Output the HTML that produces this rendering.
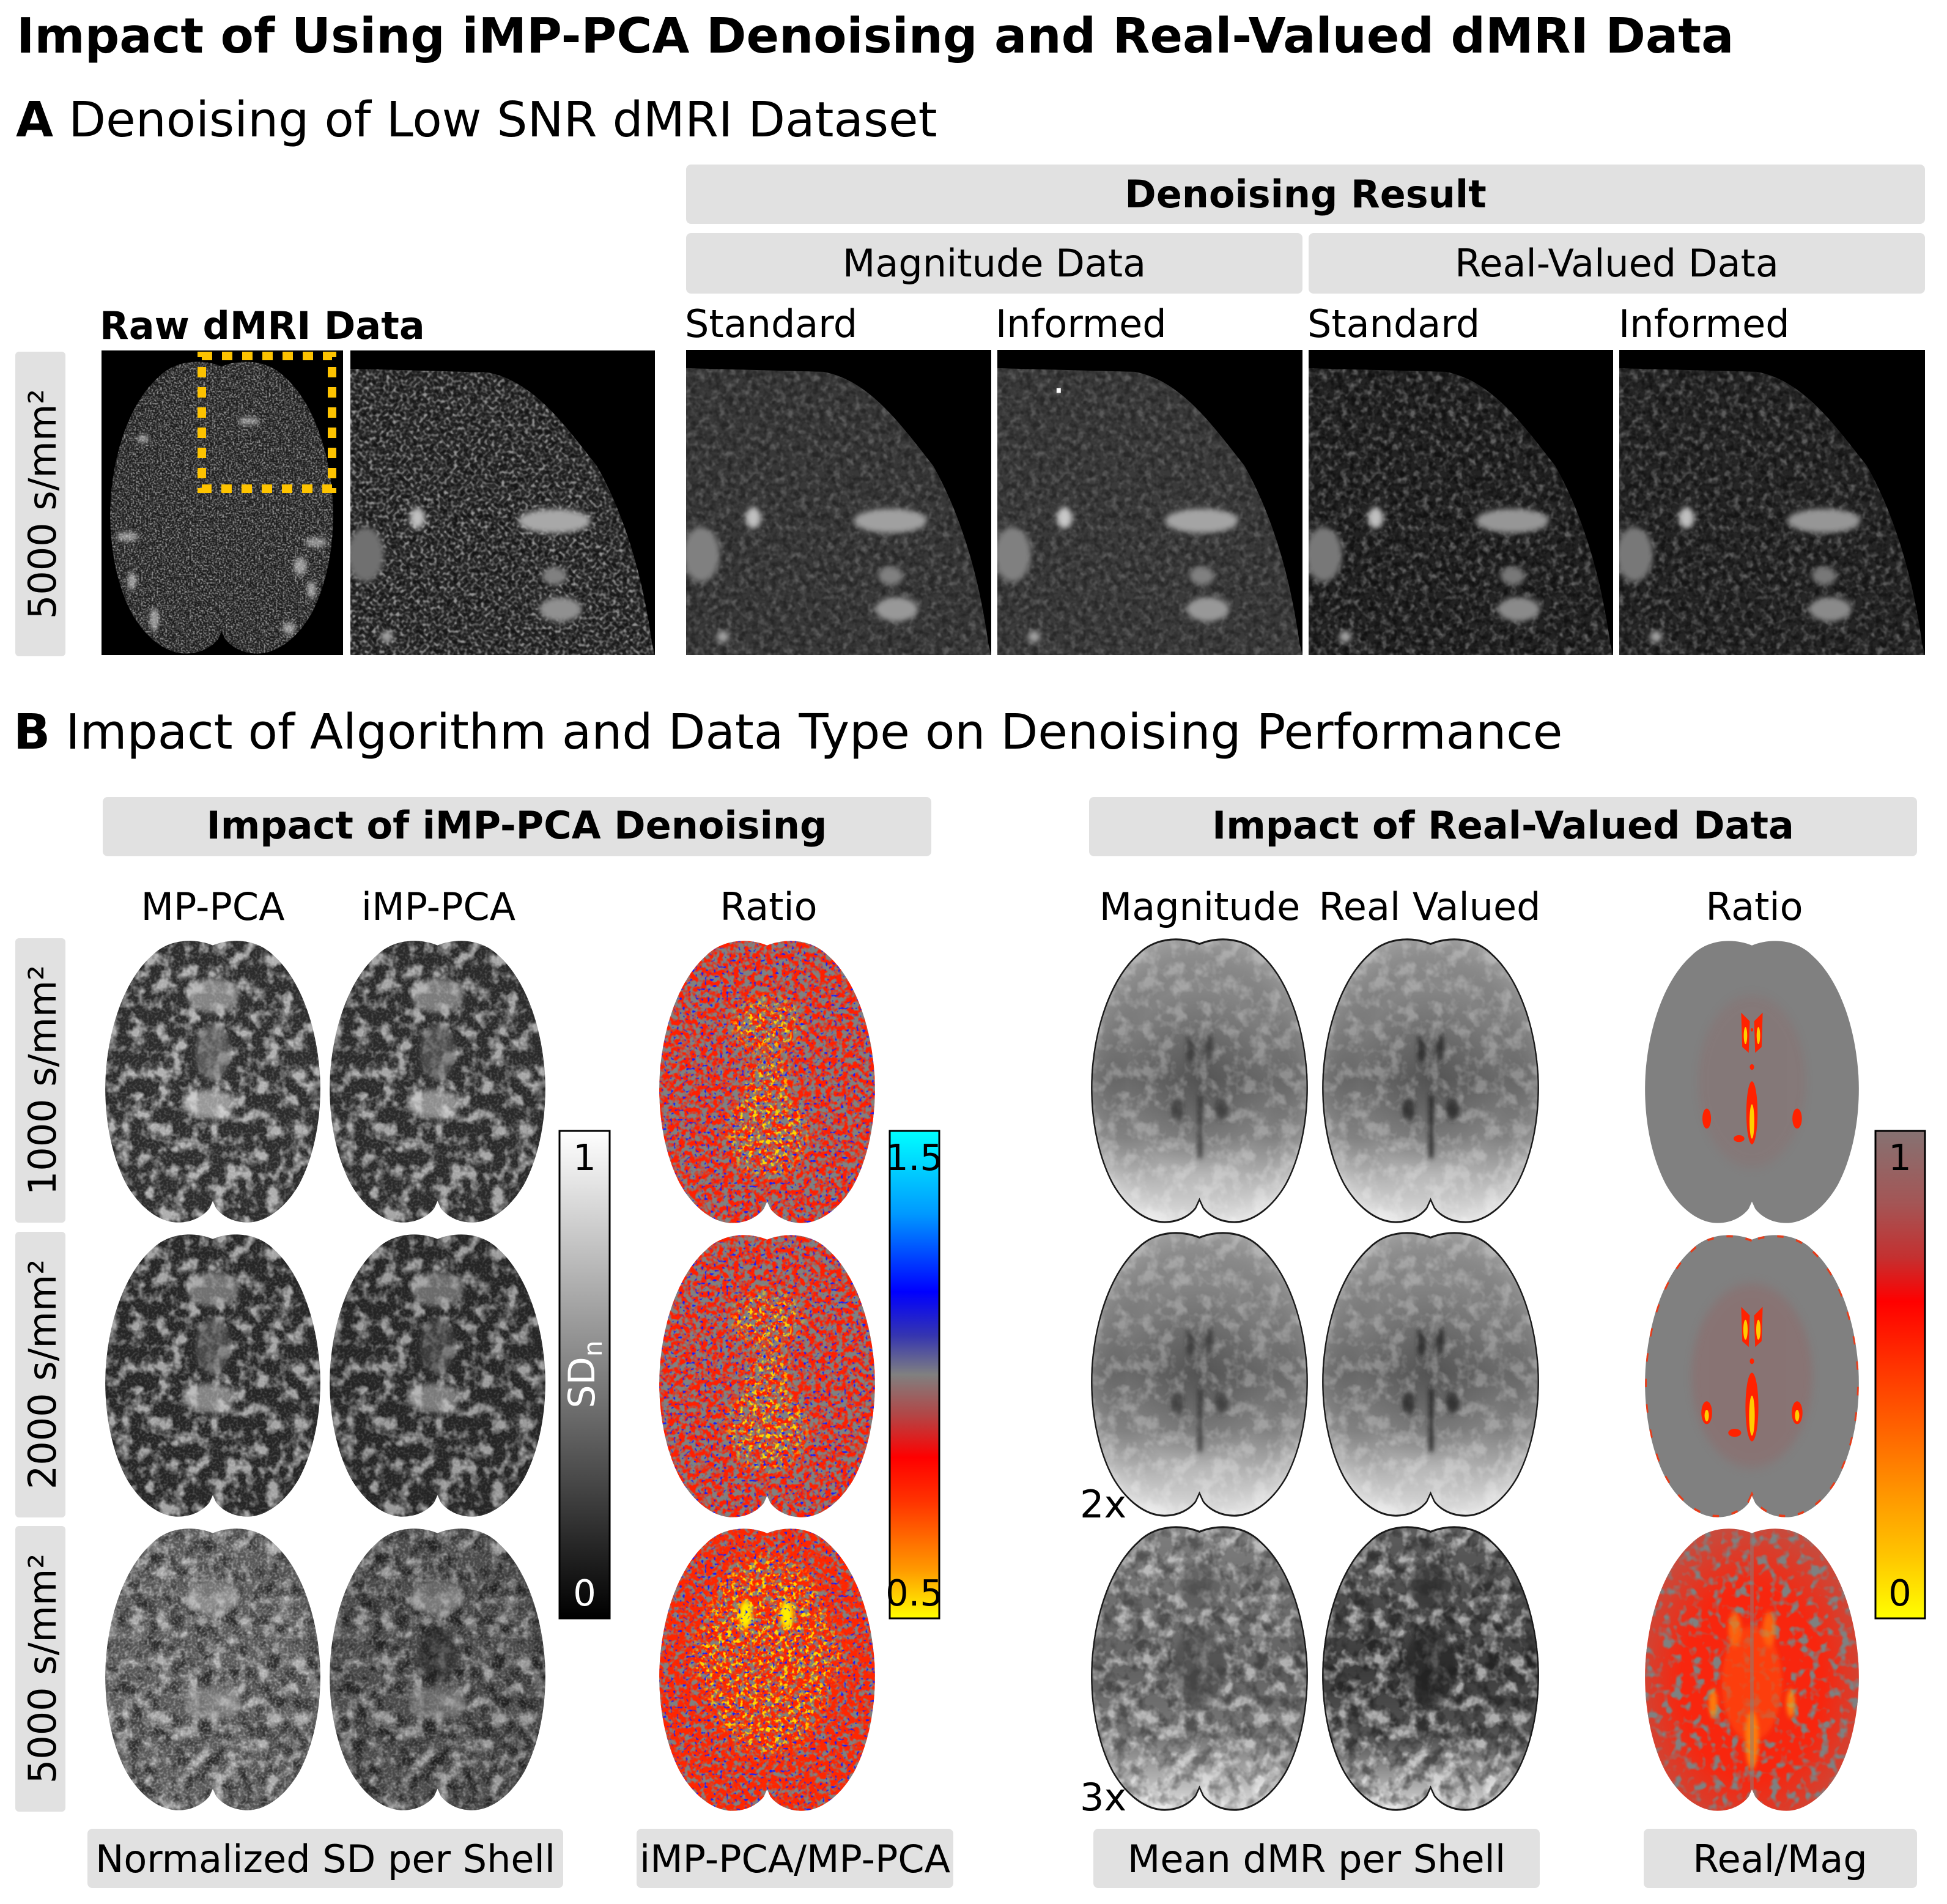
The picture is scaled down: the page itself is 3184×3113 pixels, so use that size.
<!DOCTYPE html>
<html><head><meta charset="utf-8"><style>html,body{margin:0;padding:0;background:#fff;}svg{display:block;}</style></head>
<body>
<svg xmlns="http://www.w3.org/2000/svg" width="3184" height="3113" viewBox="0 0 3184 3113" font-family="'DejaVu Sans','Liberation Sans',sans-serif">
<defs>
<clipPath id="cb" clipPathUnits="userSpaceOnUse"><path id="bp" d="M50,2.5 C42,0 30,0 22,6 C10,14 2,30 0.5,48 C-0.5,62 3,76 10,86 C16,94 25,99.5 34,99.5 C41,99.5 46,97 48.5,94.5 L50,92 L51.5,94.5 C54,97 59,99.5 66,99.5 C75,99.5 84,94 90,86 C97,76 100.5,62 99.5,48 C98,30 90,14 78,6 C70,0 58,0 50,2.5Z"/></clipPath>
<clipPath id="cq" clipPathUnits="userSpaceOnUse"><path d="M0,6 L45,7.2 C60,10 70,24 81,38 C90,54 96,74 99,96 L100,100 L0,100Z"/></clipPath>

<filter id="bl" x="-50%" y="-50%" width="200%" height="200%"><feGaussianBlur stdDeviation="0.9"/></filter>
<filter id="bl2" x="-50%" y="-50%" width="200%" height="200%"><feGaussianBlur stdDeviation="2"/></filter>

<filter id="fWM" x="0" y="0" width="1" height="1" color-interpolation-filters="sRGB"><feTurbulence type="fractalNoise" baseFrequency="0.16 0.2" numOctaves="3" seed="3"/><feColorMatrix type="matrix" values="0 0 0 0 1 0 0 0 0 1 0 0 0 0 1 3.6 0 0 0 -1.6"/></filter>
<filter id="fWMd" x="0" y="0" width="1" height="1" color-interpolation-filters="sRGB"><feTurbulence type="fractalNoise" baseFrequency="0.16 0.2" numOctaves="3" seed="8"/><feColorMatrix type="matrix" values="0 0 0 0 0 0 0 0 0 0 0 0 0 0 0 3.6 0 0 0 -1.6"/></filter>
<filter id="fFine" x="0" y="0" width="1" height="1" color-interpolation-filters="sRGB"><feTurbulence type="fractalNoise" baseFrequency="0.9 1.2" numOctaves="1" seed="4"/><feColorMatrix type="matrix" values="0 0 0 0 1 0 0 0 0 1 0 0 0 0 1 3 0 0 0 -1.35"/></filter>
<filter id="fRed" x="0" y="0" width="1" height="1" color-interpolation-filters="sRGB"><feTurbulence type="fractalNoise" baseFrequency="0.4 0.52" numOctaves="2" seed="5"/><feColorMatrix type="matrix" values="0 0 0 0 1 0 0 0 0 0.12 0 0 0 0 0 4.6 0 0 0 -1.8"/></filter>
<filter id="fRed3" x="0" y="0" width="1" height="1" color-interpolation-filters="sRGB"><feTurbulence type="fractalNoise" baseFrequency="0.4 0.52" numOctaves="2" seed="15"/><feColorMatrix type="matrix" values="0 0 0 0 1 0 0 0 0 0.15 0 0 0 0 0 4.6 0 0 0 -1.5"/></filter>
<filter id="fBlue" x="0" y="0" width="1" height="1" color-interpolation-filters="sRGB"><feTurbulence type="fractalNoise" baseFrequency="0.7 0.9" numOctaves="1" seed="9"/><feColorMatrix type="matrix" values="0 0 0 0 0.08 0 0 0 0 0.12 0 0 0 0 1 0 8 0 0 -4.9"/></filter>
<filter id="fYel" x="0" y="0" width="1" height="1" color-interpolation-filters="sRGB"><feTurbulence type="fractalNoise" baseFrequency="0.5 0.65" numOctaves="2" seed="11"/><feColorMatrix type="matrix" values="0 0 0 0 1 0 0 0 0 0.85 0 0 0 0 0 0 0 6 0 -3.2"/></filter>
<filter id="fGray" x="0" y="0" width="1" height="1" color-interpolation-filters="sRGB"><feTurbulence type="fractalNoise" baseFrequency="0.22 0.28" numOctaves="2" seed="13"/><feColorMatrix type="matrix" values="0 0 0 0 0.5 0 0 0 0 0.5 0 0 0 0 0.5 4.5 0 0 0 -2.25"/></filter>

<filter id="fAf" x="0" y="0" width="1" height="1" color-interpolation-filters="sRGB"><feTurbulence type="fractalNoise" baseFrequency="0.9" numOctaves="1" seed="21"/><feColorMatrix type="matrix" values="0 0 0 0 1 0 0 0 0 1 0 0 0 0 1 3.2 0 0 0 -1.4"/></filter>
<filter id="fAm" x="0" y="0" width="1" height="1" color-interpolation-filters="sRGB"><feTurbulence type="fractalNoise" baseFrequency="0.45" numOctaves="2" seed="22"/><feColorMatrix type="matrix" values="0 0 0 0 1 0 0 0 0 1 0 0 0 0 1 3 0 0 0 -1.35"/></filter>
<filter id="fAk" x="0" y="0" width="1" height="1" color-interpolation-filters="sRGB"><feTurbulence type="fractalNoise" baseFrequency="0.5" numOctaves="2" seed="23"/><feColorMatrix type="matrix" values="0 0 0 0 0 0 0 0 0 0 0 0 0 0 0 3 0 0 0 -1.2"/></filter>
<filter id="fRaw" x="0" y="0" width="1" height="1" color-interpolation-filters="sRGB"><feTurbulence type="fractalNoise" baseFrequency="1.3 1.7" numOctaves="1" seed="31"/><feColorMatrix type="matrix" values="0 0 0 0 1 0 0 0 0 1 0 0 0 0 1 3.4 0 0 0 -1.45"/></filter>

<linearGradient id="gGray" x1="0" y1="0" x2="0" y2="1"><stop offset="0" stop-color="#ffffff"/><stop offset="1" stop-color="#000000"/></linearGradient>
<linearGradient id="gMid" x1="0" y1="0" x2="0" y2="1">
<stop offset="0" stop-color="#00ffff"/><stop offset="0.17" stop-color="#0099ff"/><stop offset="0.33" stop-color="#0000ff"/><stop offset="0.42" stop-color="#3535b0"/><stop offset="0.5" stop-color="#808080"/><stop offset="0.58" stop-color="#b04848"/><stop offset="0.67" stop-color="#ff0000"/><stop offset="0.76" stop-color="#ff3300"/><stop offset="0.9" stop-color="#ff9900"/><stop offset="1" stop-color="#ffff00"/></linearGradient>
<linearGradient id="gRt" x1="0" y1="0" x2="0" y2="1">
<stop offset="0" stop-color="#867272"/><stop offset="0.15" stop-color="#a45555"/><stop offset="0.26" stop-color="#c43030"/><stop offset="0.35" stop-color="#ff0000"/><stop offset="0.5" stop-color="#ff3a00"/><stop offset="0.62" stop-color="#ff6600"/><stop offset="0.74" stop-color="#ff9400"/><stop offset="0.87" stop-color="#ffc400"/><stop offset="1" stop-color="#ffff00"/></linearGradient>

<linearGradient id="gMag" x1="0" y1="0" x2="0" y2="1"><stop offset="0" stop-color="#959595"/><stop offset="0.3" stop-color="#7e7e7e"/><stop offset="0.5" stop-color="#6a6a6a"/><stop offset="0.7" stop-color="#868686"/><stop offset="0.86" stop-color="#c4c4c4"/><stop offset="1" stop-color="#eeeeee"/></linearGradient>
<linearGradient id="gMag3" x1="0" y1="0" x2="0" y2="1"><stop offset="0" stop-color="#7e7e7e"/><stop offset="0.5" stop-color="#626262"/><stop offset="0.75" stop-color="#7a7a7a"/><stop offset="0.9" stop-color="#b8b8b8"/><stop offset="1" stop-color="#e4e4e4"/></linearGradient>
<linearGradient id="gReal3" x1="0" y1="0" x2="0" y2="1"><stop offset="0" stop-color="#5e5e5e"/><stop offset="0.5" stop-color="#3c3c3c"/><stop offset="0.75" stop-color="#565656"/><stop offset="0.9" stop-color="#a8a8a8"/><stop offset="1" stop-color="#dcdcdc"/></linearGradient>
<radialGradient id="rMag" cx="0.5" cy="0.5" r="0.55"><stop offset="0" stop-color="#000" stop-opacity="0.22"/><stop offset="0.6" stop-color="#000" stop-opacity="0"/><stop offset="1" stop-color="#fff" stop-opacity="0.25"/></radialGradient>
<radialGradient id="rEdgeG" cx="0.5" cy="0.55" r="0.55"><stop offset="0.6" stop-color="#808080" stop-opacity="0"/><stop offset="1" stop-color="#808080" stop-opacity="0.4"/></radialGradient>

<mask id="mY" maskUnits="userSpaceOnUse" x="0" y="0" width="100" height="100"><g fill="#fff" filter="url(#bl2)"><ellipse cx="50" cy="30" rx="16" ry="9"/><ellipse cx="50" cy="68" rx="18" ry="15"/><ellipse cx="50" cy="50" rx="10" ry="10"/></g></mask>
<mask id="mY3" maskUnits="userSpaceOnUse" x="0" y="0" width="100" height="100"><g fill="#fff" filter="url(#bl2)"><ellipse cx="50" cy="45" rx="30" ry="35"/><ellipse cx="25" cy="45" rx="10" ry="10"/><ellipse cx="75" cy="45" rx="10" ry="10"/></g></mask>
</defs>

<!-- ============ TITLES ============ -->
<text x="27" y="86" font-size="79" font-weight="bold">Impact of Using iMP-PCA Denoising and Real-Valued dMRI Data</text>
<text x="26" y="223" font-size="79"><tspan font-weight="bold">A</tspan> Denoising of Low SNR dMRI Dataset</text>
<text x="22" y="1224" font-size="79"><tspan font-weight="bold">B</tspan> Impact of Algorithm and Data Type on Denoising Performance</text>

<!-- ============ PANEL A ============ -->
<rect x="1122" y="269" width="2026" height="97" rx="8" fill="#e1e1e1"/>
<text x="2135" y="339" font-size="62" font-weight="bold" text-anchor="middle">Denoising Result</text>
<rect x="1122" y="381" width="1008" height="99" rx="8" fill="#e1e1e1"/>
<text x="1626" y="452" font-size="62" text-anchor="middle">Magnitude Data</text>
<rect x="2140" y="381" width="1008" height="99" rx="8" fill="#e1e1e1"/>
<text x="2644" y="452" font-size="62" text-anchor="middle">Real-Valued Data</text>

<text x="163" y="554" font-size="62" font-weight="bold">Raw dMRI Data</text>
<text x="1120" y="551" font-size="62">Standard</text>
<text x="1628" y="551" font-size="62">Informed</text>
<text x="2138" y="551" font-size="62">Standard</text>
<text x="2647" y="551" font-size="62">Informed</text>

<rect x="25" y="575" width="82" height="498" rx="6" fill="#e1e1e1"/>
<text transform="translate(91,824) rotate(-90)" font-size="62" text-anchor="middle">5000 s/mm²</text>

<!-- raw full -->
<rect x="166" y="573" width="395" height="498" fill="#000"/>
<svg x="179" y="587" width="367" height="484" viewBox="0 0 100 100" preserveAspectRatio="none">
<g clip-path="url(#cb)">
<rect width="100" height="100" fill="#262626"/>
<rect width="100" height="100" filter="url(#fRaw)" opacity="0.5"/>
<rect width="100" height="100" filter="url(#fAk)" opacity="0.3"/>
<g filter="url(#bl)" fill="#d8d8d8" opacity="0.65">
<ellipse cx="8" cy="60" rx="5" ry="1.5"/><ellipse cx="92" cy="62" rx="5" ry="1.5"/><ellipse cx="85" cy="70" rx="3" ry="3"/><ellipse cx="20" cy="88" rx="2" ry="4"/><ellipse cx="80" cy="91" rx="3" ry="2"/><ellipse cx="62" cy="21" rx="5" ry="1.2"/><ellipse cx="15" cy="27" rx="3" ry="1.2"/><ellipse cx="10" cy="75" rx="2" ry="3"/><ellipse cx="90" cy="78" rx="2" ry="3"/>
</g>
</g>
</svg>
<rect x="330" y="582" width="213" height="217" fill="none" stroke="#fdc300" stroke-width="14" stroke-dasharray="17 16"/>

<!-- zoomed raw -->
<rect x="573" y="573" width="498" height="498" fill="#000"/>
<svg x="573" y="573" width="498" height="498" viewBox="0 0 100 100" preserveAspectRatio="none">
<g clip-path="url(#cq)">
<rect width="100" height="100" fill="#2a2a2a"/>
<rect width="100" height="100" filter="url(#fAf)" opacity="0.5"/>
<rect width="100" height="100" filter="url(#fAk)" opacity="0.5"/>
<g filter="url(#bl)">
<ellipse cx="67" cy="56" rx="12" ry="4" fill="#a8a8a8"/><ellipse cx="22" cy="55" rx="2.5" ry="3.5" fill="#c0c0c0"/><ellipse cx="5" cy="67" rx="6" ry="9" fill="#707070"/><ellipse cx="69" cy="85" rx="7" ry="4" fill="#909090"/><ellipse cx="67" cy="74" rx="4" ry="3" fill="#808080"/><circle cx="12" cy="94" r="2" fill="#a0a0a0"/>
</g>
</g>
</svg>

<!-- denoised -->
<rect x="1122" y="572" width="499" height="499" fill="#000"/>
<svg x="1122" y="572" width="499" height="499" viewBox="0 0 100 100" preserveAspectRatio="none">
<g clip-path="url(#cq)">
<rect width="100" height="100" fill="#383838"/>
<rect width="100" height="100" filter="url(#fAm)" opacity="0.18"/>
<rect width="100" height="100" filter="url(#fAk)" opacity="0.3"/>
<g filter="url(#bl)">
<ellipse cx="67" cy="56" rx="12" ry="4" fill="#a0a0a0"/><ellipse cx="22" cy="55" rx="2.5" ry="3.5" fill="#c0c0c0"/><ellipse cx="5" cy="67" rx="6" ry="9" fill="#808080"/><ellipse cx="69" cy="85" rx="7" ry="4" fill="#989898"/><ellipse cx="67" cy="74" rx="4" ry="3" fill="#808080"/><circle cx="12" cy="94" r="2" fill="#a0a0a0"/>
</g>
</g>
</svg>
<rect x="1631" y="572" width="499" height="499" fill="#000"/>
<svg x="1631" y="572" width="499" height="499" viewBox="0 0 100 100" preserveAspectRatio="none">
<g clip-path="url(#cq)">
<rect width="100" height="100" fill="#3a3a3a"/>
<rect width="100" height="100" filter="url(#fAm)" opacity="0.16"/>
<rect width="100" height="100" filter="url(#fAk)" opacity="0.3"/>
<g filter="url(#bl)">
<ellipse cx="67" cy="56" rx="12" ry="4" fill="#a4a4a4"/><ellipse cx="22" cy="55" rx="2.5" ry="3.5" fill="#c8c8c8"/><ellipse cx="5" cy="67" rx="6" ry="9" fill="#808080"/><ellipse cx="69" cy="85" rx="7" ry="4" fill="#989898"/><ellipse cx="67" cy="74" rx="4" ry="3" fill="#808080"/><circle cx="12" cy="94" r="2" fill="#a0a0a0"/>
</g>
</g>
<rect x="19.4" y="12.5" width="1.4" height="1.6" fill="#fff"/>
</svg>
<rect x="2140" y="572" width="498" height="499" fill="#000"/>
<svg x="2140" y="572" width="498" height="499" viewBox="0 0 100 100" preserveAspectRatio="none">
<g clip-path="url(#cq)">
<rect width="100" height="100" fill="#232323"/>
<rect width="100" height="100" filter="url(#fAm)" opacity="0.28"/>
<rect width="100" height="100" filter="url(#fAk)" opacity="0.5"/>
<g filter="url(#bl)">
<ellipse cx="67" cy="56" rx="12" ry="4" fill="#969696"/><ellipse cx="22" cy="55" rx="2.5" ry="3.5" fill="#c0c0c0"/><ellipse cx="5" cy="67" rx="6" ry="9" fill="#787878"/><ellipse cx="69" cy="85" rx="7" ry="4" fill="#8a8a8a"/><ellipse cx="67" cy="74" rx="4" ry="3" fill="#787878"/><circle cx="12" cy="94" r="2" fill="#a0a0a0"/>
</g>
</g>
</svg>
<rect x="2648" y="572" width="500" height="499" fill="#000"/>
<svg x="2648" y="572" width="500" height="499" viewBox="0 0 100 100" preserveAspectRatio="none">
<g clip-path="url(#cq)">
<rect width="100" height="100" fill="#252525"/>
<rect width="100" height="100" filter="url(#fAm)" opacity="0.25"/>
<rect width="100" height="100" filter="url(#fAk)" opacity="0.45"/>
<g filter="url(#bl)">
<ellipse cx="67" cy="56" rx="12" ry="4" fill="#969696"/><ellipse cx="22" cy="55" rx="2.5" ry="3.5" fill="#c0c0c0"/><ellipse cx="5" cy="67" rx="6" ry="9" fill="#787878"/><ellipse cx="69" cy="85" rx="7" ry="4" fill="#8a8a8a"/><ellipse cx="67" cy="74" rx="4" ry="3" fill="#787878"/><circle cx="12" cy="94" r="2" fill="#a0a0a0"/>
</g>
</g>
</svg>

<!-- ============ PANEL B ============ -->
<rect x="168" y="1303" width="1355" height="97" rx="8" fill="#e1e1e1"/>
<text x="845" y="1371" font-size="62" font-weight="bold" text-anchor="middle">Impact of iMP-PCA Denoising</text>
<rect x="1781" y="1303" width="1354" height="97" rx="8" fill="#e1e1e1"/>
<text x="2458" y="1371" font-size="62" font-weight="bold" text-anchor="middle">Impact of Real-Valued Data</text>

<g font-size="62" text-anchor="middle">
<text x="348" y="1504">MP-PCA</text>
<text x="717" y="1504">iMP-PCA</text>
<text x="1257" y="1504">Ratio</text>
<text x="1962" y="1504">Magnitude</text>
<text x="2338" y="1504">Real Valued</text>
<text x="2869" y="1504">Ratio</text>
</g>

<rect x="25" y="1534" width="82" height="465" rx="6" fill="#e1e1e1"/>
<rect x="25" y="2014" width="82" height="467" rx="6" fill="#e1e1e1"/>
<rect x="25" y="2495" width="82" height="467" rx="6" fill="#e1e1e1"/>
<text transform="translate(91,1766) rotate(-90)" font-size="62" text-anchor="middle">1000 s/mm²</text>
<text transform="translate(91,2247) rotate(-90)" font-size="62" text-anchor="middle">2000 s/mm²</text>
<text transform="translate(91,2728) rotate(-90)" font-size="62" text-anchor="middle">5000 s/mm²</text>

<!-- MP-PCA / iMP-PCA -->
<svg x="171" y="1534" width="354" height="467" viewBox="0 0 100 100" preserveAspectRatio="none"><g clip-path="url(#cb)">
<rect width="100" height="100" fill="#2c2c2c"/><rect width="100" height="100" filter="url(#fWM)" opacity="0.62"/><rect width="100" height="100" filter="url(#fFine)" opacity="0.2"/>
<g filter="url(#bl)" opacity="0.6"><ellipse cx="50" cy="20" rx="12" ry="6" fill="#c0c0c0"/><ellipse cx="48" cy="58" rx="12" ry="5" fill="#e0e0e0"/><ellipse cx="50" cy="40" rx="8" ry="10" fill="#777"/></g>
</g></svg>
<svg x="538" y="1534" width="355" height="467" viewBox="0 0 100 100" preserveAspectRatio="none"><g clip-path="url(#cb)">
<rect width="100" height="100" fill="#2a2a2a"/><rect width="100" height="100" filter="url(#fWM)" opacity="0.58"/><rect width="100" height="100" filter="url(#fFine)" opacity="0.18"/>
<g filter="url(#bl)" opacity="0.55"><ellipse cx="50" cy="20" rx="12" ry="6" fill="#c0c0c0"/><ellipse cx="48" cy="58" rx="12" ry="5" fill="#e0e0e0"/><ellipse cx="50" cy="40" rx="8" ry="10" fill="#666"/></g>
</g></svg>
<svg x="171" y="2014" width="354" height="468" viewBox="0 0 100 100" preserveAspectRatio="none"><g clip-path="url(#cb)">
<rect width="100" height="100" fill="#262626"/><rect width="100" height="100" filter="url(#fWM)" opacity="0.58"/><rect width="100" height="100" filter="url(#fFine)" opacity="0.18"/>
<g filter="url(#bl)" opacity="0.55"><ellipse cx="50" cy="20" rx="12" ry="6" fill="#b0b0b0"/><ellipse cx="48" cy="58" rx="12" ry="5" fill="#d0d0d0"/><ellipse cx="50" cy="40" rx="8" ry="10" fill="#666"/></g>
</g></svg>
<svg x="538" y="2014" width="355" height="468" viewBox="0 0 100 100" preserveAspectRatio="none"><g clip-path="url(#cb)">
<rect width="100" height="100" fill="#252525"/><rect width="100" height="100" filter="url(#fWM)" opacity="0.54"/><rect width="100" height="100" filter="url(#fFine)" opacity="0.15"/>
<g filter="url(#bl)" opacity="0.5"><ellipse cx="50" cy="20" rx="12" ry="6" fill="#b0b0b0"/><ellipse cx="48" cy="58" rx="12" ry="5" fill="#d0d0d0"/><ellipse cx="50" cy="40" rx="8" ry="10" fill="#555"/></g>
</g></svg>
<svg x="171" y="2495" width="354" height="467" viewBox="0 0 100 100" preserveAspectRatio="none"><g clip-path="url(#cb)">
<rect width="100" height="100" fill="#5a5a5a"/><rect width="100" height="100" filter="url(#fWM)" opacity="0.5"/><rect width="100" height="100" filter="url(#fWMd)" opacity="0.5"/><rect width="100" height="100" filter="url(#fFine)" opacity="0.35"/>
<g filter="url(#bl)" opacity="0.5"><ellipse cx="50" cy="25" rx="12" ry="6" fill="#bbb"/><ellipse cx="50" cy="62" rx="14" ry="6" fill="#aaa"/></g>
</g></svg>
<svg x="538" y="2495" width="355" height="467" viewBox="0 0 100 100" preserveAspectRatio="none"><g clip-path="url(#cb)">
<rect width="100" height="100" fill="#4a4a4a"/><rect width="100" height="100" filter="url(#fWM)" opacity="0.45"/><rect width="100" height="100" filter="url(#fWMd)" opacity="0.55"/><rect width="100" height="100" filter="url(#fFine)" opacity="0.25"/>
<g filter="url(#bl)" opacity="0.5"><ellipse cx="50" cy="25" rx="12" ry="6" fill="#aaa"/><ellipse cx="50" cy="45" rx="9" ry="10" fill="#222"/><ellipse cx="50" cy="62" rx="14" ry="6" fill="#999"/></g>
</g></svg>

<!-- middle ratio -->
<svg x="1077" y="1534" width="355" height="468" viewBox="0 0 100 100" preserveAspectRatio="none"><g clip-path="url(#cb)">
<rect width="100" height="100" fill="#808080"/><rect width="100" height="100" filter="url(#fRed)"/>
<g mask="url(#mY)"><rect width="100" height="100" filter="url(#fYel)"/></g>
<rect width="100" height="100" filter="url(#fBlue)"/>
</g></svg>
<svg x="1077" y="2015" width="355" height="468" viewBox="0 0 100 100" preserveAspectRatio="none"><g clip-path="url(#cb)">
<rect width="100" height="100" fill="#808080"/><rect width="100" height="100" filter="url(#fRed)"/>
<g mask="url(#mY)"><rect width="100" height="100" filter="url(#fYel)"/></g>
<rect width="100" height="100" filter="url(#fBlue)"/>
</g></svg>
<svg x="1077" y="2495" width="355" height="468" viewBox="0 0 100 100" preserveAspectRatio="none"><g clip-path="url(#cb)">
<rect width="100" height="100" fill="#808080"/><rect width="100" height="100" filter="url(#fRed3)"/>
<g mask="url(#mY3)"><rect width="100" height="100" filter="url(#fYel)"/></g>
<g filter="url(#bl)" fill="#ffee00"><ellipse cx="40" cy="31" rx="3" ry="5"/><ellipse cx="59" cy="31" rx="3" ry="5"/></g>
<rect width="100" height="100" filter="url(#fBlue)"/>
</g></svg>

<!-- Magnitude / Real -->
<svg x="1783" y="1530" width="357" height="472" viewBox="0 0 100 100" preserveAspectRatio="none"><g clip-path="url(#cb)">
<rect width="100" height="100" fill="url(#gMag)"/><rect width="100" height="100" fill="url(#rMag)"/><rect width="100" height="100" filter="url(#fWM)" opacity="0.25"/>
<g filter="url(#bl)" fill="#333" opacity="0.7"><path d="M44,33 L48,38 L47,44 L44,43Z"/><path d="M56,33 L52,38 L53,44 L56,43Z"/><rect x="49" y="55" width="2.5" height="22"/><ellipse cx="40" cy="60" rx="3" ry="4"/><ellipse cx="60" cy="60" rx="3" ry="4"/></g>
<use href="#bp" fill="none" stroke="#1a1a1a" stroke-width="1.3"/>
</g></svg>
<svg x="2161" y="1530" width="357" height="472" viewBox="0 0 100 100" preserveAspectRatio="none"><g clip-path="url(#cb)">
<rect width="100" height="100" fill="url(#gMag)"/><rect width="100" height="100" fill="url(#rMag)"/><rect width="100" height="100" filter="url(#fWM)" opacity="0.25"/>
<g filter="url(#bl)" fill="#222" opacity="0.75"><path d="M44,33 L48,38 L47,44 L44,43Z"/><path d="M56,33 L52,38 L53,44 L56,43Z"/><rect x="49" y="55" width="2.5" height="22"/><ellipse cx="40" cy="60" rx="3" ry="4"/><ellipse cx="60" cy="60" rx="3" ry="4"/></g>
<use href="#bp" fill="none" stroke="#1a1a1a" stroke-width="1.3"/>
</g></svg>
<svg x="1783" y="2010" width="357" height="472" viewBox="0 0 100 100" preserveAspectRatio="none"><g clip-path="url(#cb)">
<rect width="100" height="100" fill="url(#gMag)"/><rect width="100" height="100" fill="url(#rMag)"/><rect width="100" height="100" filter="url(#fWM)" opacity="0.25"/>
<g filter="url(#bl)" fill="#333" opacity="0.7"><path d="M44,33 L48,38 L47,44 L44,43Z"/><path d="M56,33 L52,38 L53,44 L56,43Z"/><rect x="49" y="55" width="2.5" height="22"/><ellipse cx="40" cy="60" rx="3" ry="4"/><ellipse cx="60" cy="60" rx="3" ry="4"/></g>
<use href="#bp" fill="none" stroke="#1a1a1a" stroke-width="1.3"/>
</g></svg>
<svg x="2161" y="2010" width="357" height="472" viewBox="0 0 100 100" preserveAspectRatio="none"><g clip-path="url(#cb)">
<rect width="100" height="100" fill="url(#gMag)"/><rect width="100" height="100" fill="url(#rMag)"/><rect width="100" height="100" filter="url(#fWM)" opacity="0.25"/>
<g filter="url(#bl)" fill="#222" opacity="0.75"><path d="M44,33 L48,38 L47,44 L44,43Z"/><path d="M56,33 L52,38 L53,44 L56,43Z"/><rect x="49" y="55" width="2.5" height="22"/><ellipse cx="40" cy="60" rx="3" ry="4"/><ellipse cx="60" cy="60" rx="3" ry="4"/></g>
<use href="#bp" fill="none" stroke="#1a1a1a" stroke-width="1.3"/>
</g></svg>
<svg x="1783" y="2491" width="357" height="472" viewBox="0 0 100 100" preserveAspectRatio="none"><g clip-path="url(#cb)">
<rect width="100" height="100" fill="url(#gMag3)"/><rect width="100" height="100" filter="url(#fWM)" opacity="0.5"/><rect width="100" height="100" filter="url(#fWMd)" opacity="0.3"/>
<g filter="url(#bl)" opacity="0.5"><ellipse cx="50" cy="22" rx="10" ry="8" fill="#555"/><ellipse cx="50" cy="50" rx="12" ry="14" fill="#444"/></g>
<use href="#bp" fill="none" stroke="#1a1a1a" stroke-width="1.3"/>
</g></svg>
<svg x="2161" y="2491" width="357" height="472" viewBox="0 0 100 100" preserveAspectRatio="none"><g clip-path="url(#cb)">
<rect width="100" height="100" fill="url(#gReal3)"/><rect width="100" height="100" filter="url(#fWM)" opacity="0.55"/><rect width="100" height="100" filter="url(#fWMd)" opacity="0.4"/>
<g filter="url(#bl)" opacity="0.6"><ellipse cx="50" cy="22" rx="10" ry="8" fill="#333"/><ellipse cx="50" cy="50" rx="12" ry="14" fill="#222"/></g>
<use href="#bp" fill="none" stroke="#1a1a1a" stroke-width="1.3"/>
</g></svg>

<!-- right ratio -->
<svg x="2689" y="1534" width="352" height="468" viewBox="0 0 100 100" preserveAspectRatio="none"><g clip-path="url(#cb)">
<rect width="100" height="100" fill="#808080"/>
<ellipse cx="50" cy="50" rx="25" ry="30" fill="#a05050" opacity="0.15" filter="url(#bl2)"/>
<g fill="#ff2200"><path d="M45,26 L49,29 L48.5,40 L45.5,38Z"/><path d="M55,26 L51,29 L51.5,40 L54.5,38Z"/><ellipse cx="50" cy="61" rx="2.6" ry="11"/><ellipse cx="29" cy="63" rx="2" ry="3.5"/><ellipse cx="71" cy="63" rx="2.2" ry="3.5"/><ellipse cx="44" cy="70" rx="2.5" ry="1.2"/><circle cx="50" cy="45" r="1"/><circle cx="50" cy="32" r="0.6"/></g>
<g fill="#ffd000"><ellipse cx="47" cy="34" rx="0.8" ry="3"/><ellipse cx="53" cy="34" rx="0.8" ry="3"/><ellipse cx="50" cy="64" rx="1.1" ry="6"/></g>
</g></svg>
<svg x="2689" y="2015" width="352" height="468" viewBox="0 0 100 100" preserveAspectRatio="none"><g clip-path="url(#cb)">
<rect width="100" height="100" fill="#808080"/>
<ellipse cx="50" cy="50" rx="28" ry="32" fill="#a05050" opacity="0.25" filter="url(#bl2)"/>
<use href="#bp" fill="none" stroke="#ff2a00" stroke-width="1.6" stroke-dasharray="3 6" opacity="0.8"/>
<g fill="#ff2200"><path d="M45,26 L49,29 L48.5,40 L45.5,38Z"/><path d="M55,26 L51,29 L51.5,40 L54.5,38Z"/><ellipse cx="50" cy="61" rx="3" ry="12"/><ellipse cx="29" cy="63" rx="2.5" ry="4"/><ellipse cx="71" cy="63" rx="2.5" ry="4"/><ellipse cx="42" cy="70" rx="3" ry="1.4"/><circle cx="50" cy="45" r="1"/></g>
<g fill="#ffcc00"><ellipse cx="47" cy="34" rx="1" ry="3.5"/><ellipse cx="53" cy="34" rx="1" ry="3.5"/><ellipse cx="50" cy="64" rx="1.3" ry="7"/><ellipse cx="29" cy="64" rx="1" ry="2"/><ellipse cx="71" cy="64" rx="1" ry="2"/></g>
</g></svg>
<svg x="2689" y="2495" width="352" height="468" viewBox="0 0 100 100" preserveAspectRatio="none"><g clip-path="url(#cb)">
<rect width="100" height="100" fill="#f8260e"/>
<rect width="100" height="100" filter="url(#fGray)"/>
<rect width="100" height="100" fill="url(#rEdgeG)"/>
<g filter="url(#bl)" opacity="0.7"><ellipse cx="50" cy="55" rx="14" ry="20" fill="#ff4a10"/><ellipse cx="42" cy="36" rx="3" ry="6" fill="#ff7a10"/><ellipse cx="58" cy="36" rx="3" ry="6" fill="#ff7a10"/><ellipse cx="50" cy="75" rx="3" ry="10" fill="#ffa010"/><ellipse cx="32" cy="62" rx="2" ry="5" fill="#ffa010"/><ellipse cx="68" cy="62" rx="2" ry="5" fill="#ffa010"/></g>
<g fill="#808080" opacity="0.5"><rect x="49.2" y="0" width="1.6" height="100"/></g>
</g></svg>

<!-- colorbars -->
<rect x="915" y="1849" width="82" height="797" fill="url(#gGray)" stroke="#000" stroke-width="3"/>
<text x="956" y="1913" font-size="59" text-anchor="middle">1</text>
<text x="956" y="2625" font-size="59" text-anchor="middle" fill="#fff">0</text>
<text transform="translate(972,2247) rotate(-90)" font-size="60" text-anchor="middle" fill="#fff">SD<tspan font-size="42" dy="12">n</tspan></text>

<rect x="1455" y="1849" width="81" height="797" fill="url(#gMid)" stroke="#000" stroke-width="3"/>
<text x="1495" y="1913" font-size="59" text-anchor="middle">1.5</text>
<text x="1495" y="2625" font-size="59" text-anchor="middle">0.5</text>

<rect x="3067" y="1849" width="81" height="797" fill="url(#gRt)" stroke="#000" stroke-width="3"/>
<text x="3107" y="1913" font-size="59" text-anchor="middle">1</text>
<text x="3107" y="2625" font-size="59" text-anchor="middle">0</text>

<text x="1766" y="2481" font-size="62">2x</text>
<text x="1766" y="2960" font-size="62">3x</text>

<!-- bottom boxes -->
<rect x="143" y="2990" width="778" height="97" rx="8" fill="#e1e1e1"/>
<text x="532" y="3061" font-size="62" text-anchor="middle">Normalized SD per Shell</text>
<rect x="1041" y="2990" width="518" height="97" rx="8" fill="#e1e1e1"/>
<text x="1300" y="3061" font-size="62" text-anchor="middle">iMP-PCA/MP-PCA</text>
<rect x="1788" y="2990" width="730" height="97" rx="8" fill="#e1e1e1"/>
<text x="2153" y="3061" font-size="62" text-anchor="middle">Mean dMR per Shell</text>
<rect x="2688" y="2990" width="447" height="97" rx="8" fill="#e1e1e1"/>
<text x="2911" y="3061" font-size="62" text-anchor="middle">Real/Mag</text>
</svg>
</body></html>
